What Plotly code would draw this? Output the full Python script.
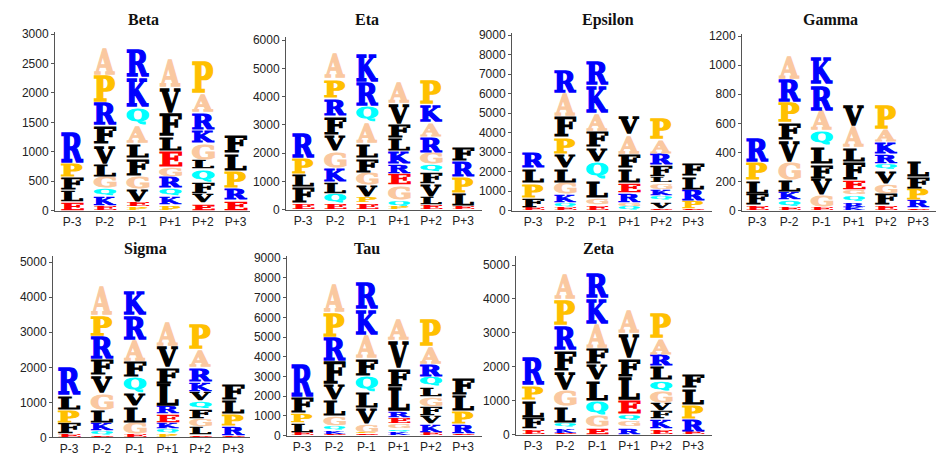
import plotly.graph_objects as go

POSITIONS = ["P-3", "P-2", "P-1", "P+1", "P+2", "P+3"]
PANEL_NAMES = ["Beta", "Eta", "Epsilon", "Gamma", "Sigma", "Tau", "Zeta"]

# letters listed bottom -> top for each position, with matching heights
BETA_LETTERS = ["ELFPR", "EKQGLVFRPA", "PEVGFLAQKR", "PKQRGELFVA", "EVFQLGKRAP", "ERPLF"]
BETA_HEIGHTS = [[155, 193, 221, 249, 552],
                [80, 160, 140, 200, 220, 330, 330, 390, 460, 460],
                [60, 95, 220, 222, 303, 250, 300, 310, 520, 500],
                [100, 140, 140, 190, 170, 280, 250, 390, 440, 490],
                [127, 166, 193, 221, 166, 277, 220, 304, 331, 580],
                [180, 200, 300, 300, 310]]

ETA_LETTERS = ["EFLPR", "EQLKGVFRPA", "EPVGFLAQRK", "PQGERKLFVA", "ELVFQGRAKP", "ELPRF"]
ETA_HEIGHTS = [[230, 575, 460, 575, 920],
               [230, 345, 400, 520, 575, 575, 690, 630, 690, 920],
               [230, 230, 402, 459, 517, 517, 747, 575, 861, 1035],
               [115, 230, 517, 402, 345, 459, 460, 517, 747, 748],
               [172, 288, 459, 402, 288, 402, 574, 517, 632, 862],
               [140, 470, 540, 580, 510]]

EPSILON_LETTERS = ["EFPLR", "EQKGLVPFAR", "EGLQVFAKR", "QGRELFAV", "EVQKGLFRAP", "EPRLF"]
EPSILON_HEIGHTS = [[168, 502, 755, 754, 838],
                   [168, 251, 419, 587, 754, 754, 838, 1089, 1173, 1174],
                   [300, 370, 922, 922, 754, 838, 922, 1425, 1257],
                   [201, 218, 503, 503, 754, 754, 1006, 1005],
                   [100, 400, 250, 340, 330, 330, 590, 586, 754, 1090],
                   [84, 420, 590, 670, 670]]

GAMMA_LETTERS = ["EFLPR", "EQKLGVFPRA", "EGVFLQARK", "KRQGEFLAV", "EFGVQRKAP", "ERPFL"]
GAMMA_HEIGHTS = [[39, 80, 91, 126, 171],
                 [23, 50, 57, 80, 126, 151, 125, 137, 160, 160],
                 [27, 80, 115, 103, 125, 103, 137, 183, 194],
                 [23, 39, 45, 35, 68, 126, 103, 148, 153],
                 [39, 80, 68, 92, 46, 68, 80, 92, 171],
                 [16, 57, 80, 80, 114]]

SIGMA_LETTERS = ["EFPLR", "EQKLGVFRPA", "EGLVQFARK", "PQKERLFVA", "ELGFQVKRAP", "ERPLF"]
SIGMA_HEIGHTS = [[111, 324, 371, 416, 834],
                 [65, 139, 231, 371, 463, 509, 463, 648, 602, 880],
                 [111, 324, 463, 371, 463, 463, 602, 694, 694],
                 [111, 139, 185, 232, 231, 648, 463, 602, 695],
                 [65, 231, 232, 278, 231, 278, 278, 416, 510, 740],
                 [55, 278, 334, 416, 473]]

TAU_LETTERS = ["ELPFR", "EKQGLVFRPA", "EPGVLQFAKR", "KQGERLFVA", "EKVFGLQRAP", "ERPLF"]
TAU_HEIGHTS = [[165, 495, 496, 825, 1816],
               [80, 168, 247, 496, 825, 826, 1155, 1239, 1238, 1486],
               [100, 65, 413, 825, 826, 826, 908, 1156, 1321, 1403],
               [165, 165, 248, 330, 330, 1239, 990, 1403, 1074],
               [165, 413, 413, 495, 495, 496, 495, 660, 908, 1404],
               [100, 494, 644, 841, 891]]

ZETA_LETTERS = ["EFLPR", "EKQLGVFRPA", "EGQLVFAKR", "RGQELFVA", "EKFVGQLRAP", "ERPLF"]
ZETA_HEIGHTS = [[172, 335, 526, 430, 860],
                [40, 150, 170, 480, 478, 574, 621, 717, 765, 765],
                [220, 334, 431, 621, 478, 478, 717, 765, 765],
                [220, 191, 191, 431, 669, 573, 717, 669],
                [172, 287, 239, 239, 334, 334, 431, 334, 478, 765],
                [86, 372, 430, 487, 430]]

Y_DTICK = [500, 1000, 1000, 200, 1000, 1000, 1000]

LETTER_COLORS = {
    "R": "#0000FF", "K": "#0000FF",
    "P": "#FFC000",
    "A": "#FAC8A0", "G": "#FAC8A0",
    "Q": "#00FFFF",
    "E": "#FF0000",
    "F": "#000000", "L": "#000000", "V": "#000000",
}

PANEL_LETTERS = [BETA_LETTERS, ETA_LETTERS, EPSILON_LETTERS, GAMMA_LETTERS,
                 SIGMA_LETTERS, TAU_LETTERS, ZETA_LETTERS]
PANEL_HEIGHTS = [BETA_HEIGHTS, ETA_HEIGHTS, EPSILON_HEIGHTS, GAMMA_HEIGHTS,
                 SIGMA_HEIGHTS, TAU_HEIGHTS, ZETA_HEIGHTS]

# ---- layout geometry (pixels in the 944x462 page) ----
W, H = 944, 462
# (axis x px, first category centre px, category step px, right end px,
#  zero y px, top y px, reference tick value, reference tick y px)
GEOM = [
    (55, 72, 32.7, 250, 211, 28, 3000, 30),
    (286, 303, 32.0, 482, 210, 33, 6000, 36),
    (512, 533, 32.0, 712, 211, 29, 9000, 31),
    (742, 757, 32.2, 936, 211, 30, 1200, 32),
    (53, 69, 32.8, 250, 444, 258, 5000, 264),
    (287, 302, 32.2, 482, 442, 258, 9000, 260),
    (516, 533, 32.0, 712, 441, 258, 5000, 267),
]
TITLE_POS = [(143, 15), (367, 15), (608, 15), (830, 15),
             (145, 250), (367, 250), (598, 250)]

fig = go.Figure()
layout = dict(
    width=W, height=H,
    margin=dict(l=0, r=0, t=0, b=0),
    paper_bgcolor="white", plot_bgcolor="white",
    showlegend=False, barmode="stack", bargap=0.25,
    hovermode=False,
    font=dict(family="Liberation Sans, Arial, sans-serif", size=12, color="#222"),
)

annotations = []
for i, name in enumerate(PANEL_NAMES):
    sfx = "" if i == 0 else str(i + 1)
    xa, ya = "x" + sfx, "y" + sfx
    letters = PANEL_LETTERS[i]
    heights = PANEL_HEIGHTS[i]
    depth = max(len(s) for s in letters)
    for r in range(depth):
        xs, ys, tx, cs = [], [], [], []
        for c, pos in enumerate(POSITIONS):
            if r < len(letters[c]):
                xs.append(pos)
                ys.append(heights[c][r])
                tx.append(letters[c][r])
                cs.append(LETTER_COLORS[letters[c][r]])
        fig.add_trace(go.Bar(
            x=xs, y=ys, text=tx, xaxis=xa, yaxis=ya,
            marker=dict(color="rgba(0,0,0,0)", line=dict(width=0)),
            textposition="inside", insidetextanchor="middle", textangle=0,
            textfont=dict(family="DejaVu Serif", size=14, color=cs, weight="bold"),
            width=0.74, hoverinfo="skip", cliponaxis=False,
        ))

    ax, c0, step, xr, y0, ytop, tv, tpx = GEOM[i]
    r0 = -(c0 - ax) / step
    r1 = (xr - c0) / step
    ppu = (y0 - tpx) / tv
    ymax = (y0 - ytop) / ppu
    layout["xaxis" + sfx] = dict(
        domain=[ax / W, xr / W], anchor=ya, type="category",
        categoryorder="array", categoryarray=POSITIONS,
        range=[r0, r1], showgrid=False, zeroline=False,
        showline=True, linecolor="#555", linewidth=1,
        ticks="", tickfont=dict(size=12, color="#222"), fixedrange=True,
    )
    layout["yaxis" + sfx] = dict(
        domain=[1 - y0 / H, 1 - ytop / H], anchor=xa,
        range=[0, ymax], dtick=Y_DTICK[i], tick0=0,
        showgrid=False, zeroline=False,
        showline=True, linecolor="#555", linewidth=1,
        ticks="outside", ticklen=3, tickcolor="#555",
        tickfont=dict(size=12, color="#222"), fixedrange=True,
    )
    tx_, ty_ = TITLE_POS[i]
    annotations.append(dict(
        text="<b>%s</b>" % name, x=tx_ / W, y=1 - ty_ / H,
        xref="paper", yref="paper", showarrow=False,
        xanchor="center", yanchor="middle",
        font=dict(family="Liberation Serif, Times New Roman, serif", size=16, color="#111"),
    ))

layout["annotations"] = annotations
fig.update_layout(**layout)

# stretch each letter glyph to fill its bar segment (classic sequence-logo look)
POST_JS = """
(function(){
  function fix(){
    var cv = document.createElement('canvas').getContext('2d');
    var pts = document.querySelectorAll('.js-plotly-plot g.point');
    pts.forEach(function(pt){
      var path = pt.querySelector('path');
      var txt = pt.querySelector('text');
      if(!path || !txt) return;
      var pb = path.getBBox();
      if(!(pb.width > 0 && pb.height > 0)) return;
      var fs = parseFloat(txt.style.fontSize) || 14;
      var fam = txt.style.fontFamily || 'DejaVu Serif';
      cv.font = 'bold ' + fs + 'px ' + fam;
      var s = txt.textContent;
      var m = cv.measureText(s);
      var L = m.actualBoundingBoxLeft, R = m.actualBoundingBoxRight;
      var A = m.actualBoundingBoxAscent, D = m.actualBoundingBoxDescent;
      if(!(L + R > 0 && A + D > 0)) return;
      var padx = 0.7;
      var pady = Math.min(0.7, pb.height * 0.12);
      var bw = Math.max(pb.width - 2 * padx, 0.5), bh = Math.max(pb.height - 2 * pady, 0.8);
      txt.setAttribute('x', 0);
      txt.setAttribute('y', 0);
      txt.setAttribute('text-anchor', 'start');
      txt.style.textAnchor = 'start';
      var col = txt.style.fill;
      var sw = Math.min(1.4, Math.max(0.6, pb.height * 0.12));
      txt.style.stroke = col;
      txt.style.strokeWidth = sw + 'px';
      txt.style.strokeLinejoin = 'miter';
      txt.setAttribute('vector-effect', 'non-scaling-stroke');
      txt.style.vectorEffect = 'non-scaling-stroke';
      var sx = bw / (L + R), sy = bh / (A + D);
      var ty = pb.y + (pb.height - bh) / 2;
      txt.setAttribute('transform', 'translate(' + (pb.x + padx) + ',' + ty + ') scale(' + sx + ',' + sy + ') translate(' + L + ',' + A + ')');
    });
  }
  fix();
  if (document.fonts && document.fonts.ready) { document.fonts.ready.then(fix); }
})();
"""

fig.write_html("out.html", post_script=POST_JS)
